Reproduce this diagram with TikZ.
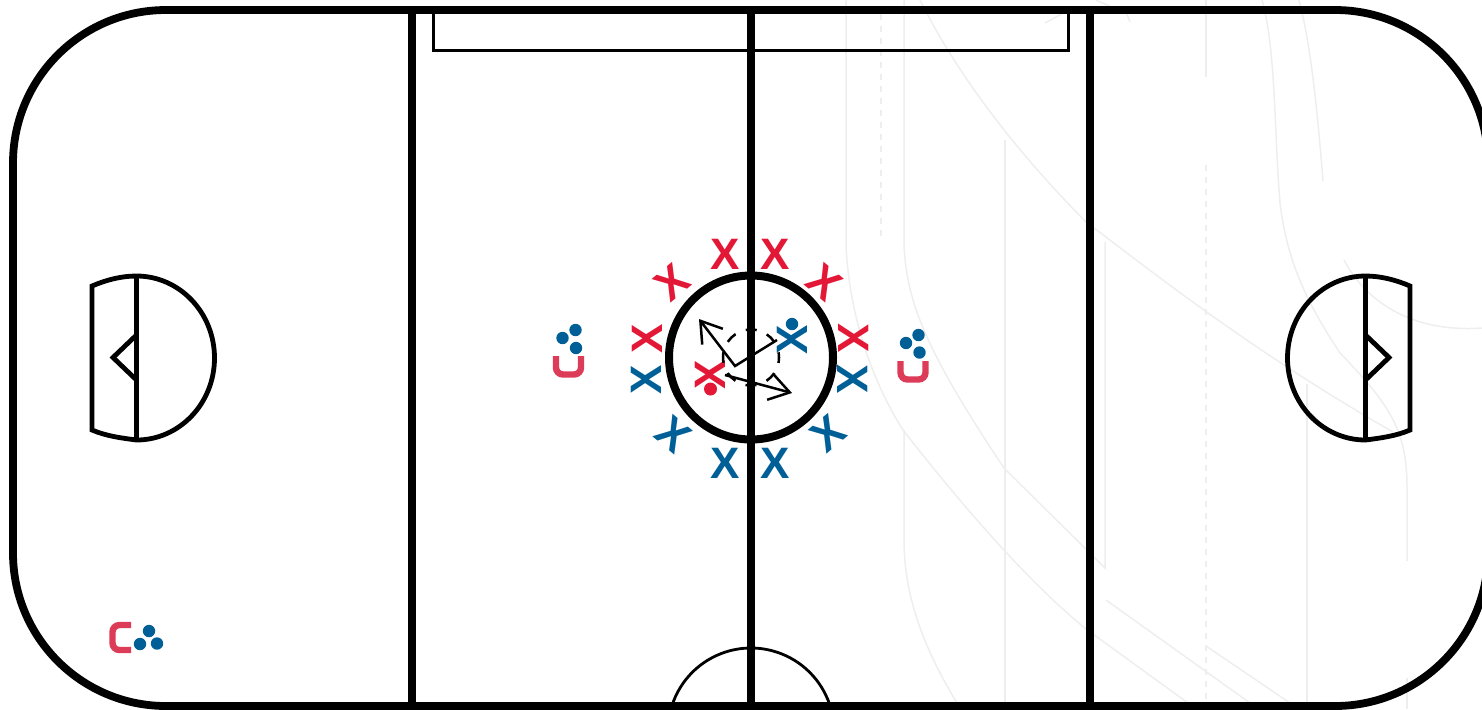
\documentclass[tikz,border=0pt]{standalone}
\usepackage{xcolor}
\usepackage{fontspec}
\usepackage{tikz}
\usetikzlibrary{arrows.meta}
\setmainfont{Liberation Sans}
\definecolor{teamred}{RGB}{227,24,55}
\definecolor{teamblue}{RGB}{0,95,150}
\definecolor{coachred}{RGB}{221,60,88}
\definecolor{ghostline}{RGB}{238,238,238}

\begin{document}
\begin{tikzpicture}[
  x=0.5pt, y=-0.5pt,
  ghost/.style={draw=ghostline, line width=0.75pt},
  ghostdash/.style={ghost, dash pattern=on 3pt off 3pt},
  wall/.style={draw=black, line width=3.9pt},
  crease/.style={draw=black, line width=2.4pt, line join=miter},
  thin line/.style={draw=black, line width=1.4pt},
  xmark/.style={font=\bfseries\fontsize{22}{22}\selectfont, inner sep=0pt, text height=15.7pt, text depth=0pt},
  ball/.style={circle, fill=teamblue, minimum size=6.2pt, inner sep=0pt},
  coach/.style={draw=coachred, line width=3.2pt, rounded corners=3.5pt},
  pass/.style={draw=black, line width=1.25pt, -{Straight Barb[length=10pt,width=13pt]}}
]
\useasboundingbox (0,0) rectangle (1482,709);

% faint lines behind the rink
\draw[ghost] (846,0) -- (846,244) .. controls (848,300) and (865,370) .. (903,430) .. controls (950,490) and (1020,575) .. (1086,629) -- (1188,703);
\draw[ghost] (904,0) -- (904,244) .. controls (906,300) and (925,350) .. (1004,468) -- (1105,568) -- (1105,242);
\draw[ghost] (904,430) -- (904,543) .. controls (905,600) and (925,650) .. (957,703);
\draw[ghost] (920,0) .. controls (950,60) and (1000,135) .. (1086,222) .. controls (1150,270) and (1250,350) .. (1393,432);
\draw[ghost] (1005,140) -- (1005,709);
\draw[ghostdash] (881,14) -- (881,240);
\draw[ghost] (1206,0) -- (1206,77);
\draw[ghostdash] (1206,165) -- (1206,709);
\draw[ghost] (1307,384) -- (1307,709);
\draw[ghost] (1262,0) .. controls (1276,50) and (1274,130) .. (1280,203) .. controls (1287,260) and (1305,300) .. (1340,353) .. controls (1390,405) and (1407,430) .. (1407,488) -- (1407,561);
\draw[ghost] (1299,0) .. controls (1312,50) and (1318,120) .. (1323,181);
\draw[ghost] (1344,260) .. controls (1365,300) and (1410,333) .. (1482,328);
\draw[ghost] (1106,600) -- (1250,703);
\draw[ghost] (1206,646) -- (1290,703);
\draw[ghost] (1407,678) -- (1407,709);
\draw[ghost] (1045,23) -- (1067,11);
\draw[ghost] (1096,0) -- (1127,14) -- (1130,22);

% rink
\draw[thin line] (433.5,10) -- (433.5,50.5) -- (1068.5,50.5) -- (1068.5,10);
\draw[thin line] (751,731) ++(-161.8:83) arc[start angle=-161.8, end angle=-18.2, radius=83];
\draw[wall] (412,10) -- (412,706);
\draw[wall] (751,10) -- (751,706);
\draw[wall] (1090,10) -- (1090,706);
\draw[wall, rounded corners=76.5pt] (13,10) rectangle (1488,706);
\draw[draw=black, line width=4pt] (751,357.5) circle[radius=82];

% left crease
\draw[crease] (92,430) -- (92,286) .. controls (106,280) and (121,276) .. (136.5,276) arc[start angle=-90, end angle=90, x radius=78, y radius=82] .. controls (121,438) and (106,436) .. (92,430) -- cycle;
\draw[crease] (136.5,276) -- (136.5,440);
\draw[crease] (136.5,335) -- (113,357.5) -- (136.5,380);
% right crease
\draw[crease] (1410,430) -- (1410,286) .. controls (1396,280) and (1381,276) .. (1365.5,276) arc[start angle=-90, end angle=-270, x radius=78, y radius=82] .. controls (1381,438) and (1396,436) .. (1410,430) -- cycle;
\draw[crease] (1365.5,276) -- (1365.5,440);
\draw[crease] (1365.5,335) -- (1389,357.5) -- (1365.5,380);

% players round the circle
\node[xmark, text=teamred]            (redtl)  at (725,254) {X};
\node[xmark, text=teamred]            (redtr)  at (775,254) {X};
\node[xmark, text=teamred, rotate=40]  (redul)  at (672,282) {X};
\node[xmark, text=teamred, rotate=-40] (redur)  at (825,282) {X};
\node[xmark, text=teamred, rotate=90]  (redl)   at (647,339) {X};
\node[xmark, text=teamred, rotate=-90] (redr)   at (854,338) {X};
\node[xmark, text=teamblue, rotate=90]  (bluel)  at (646,380) {X};
\node[xmark, text=teamblue, rotate=-90] (bluer)  at (853,379) {X};
\node[xmark, text=teamblue, rotate=-40] (bluell) at (674,434) {X};
\node[xmark, text=teamblue, rotate=40]  (bluelr) at (828,433) {X};
\node[xmark, text=teamblue]            (bluebl) at (725,463) {X};
\node[xmark, text=teamblue]            (bluebr) at (775,463) {X};

% players in the circle
\node[xmark, text=teamred, rotate=90]   (redin)  at (710,375) {X};
\node[circle, fill=teamred, minimum size=6.5pt, inner sep=0pt] (reddot) at (710.5,389) {};
\node[xmark, text=teamblue, rotate=90]  (bluein) at (792,340) {X};
\node[ball] (bluedot) at (792,324) {};

% passes
\coordinate (pivot) at (735,366);
\coordinate (passa) at (777,340);
\coordinate (tipa)  at (699,319);
\coordinate (passb) at (725,375);
\coordinate (tipb)  at (792,393);
\draw[black, line width=1.25pt, dash pattern=on 5.5pt off 5.5pt, dash phase=2.75pt] (751,357.5) circle[radius=28];
\draw[pass] (passa) -- (pivot) -- (tipa);
\draw[pass] (passb) -- (tipb);

% coaches with balls
\draw[coach] (556,356) -- (556,374.5) -- (581,374.5) -- (581,356);
\node[ball] (balla) at (575.5,330) {};
\node[ball] (ballb) at (562.5,338) {};
\node[ball] (ballc) at (576,348) {};
\draw[coach] (900.5,361) -- (900.5,379.5) -- (925.5,379.5) -- (925.5,361);
\node[ball] (balld) at (918.5,335) {};
\node[ball] (balle) at (906,343) {};
\node[ball] (ballf) at (919.5,352.5) {};
\draw[coach] (131,625) -- (112.5,625) -- (112.5,650) -- (131,650);
\node[ball] (ballg) at (149,631) {};
\node[ball] (ballh) at (140,644) {};
\node[ball] (balli) at (157,643.5) {};

\end{tikzpicture}
\end{document}
